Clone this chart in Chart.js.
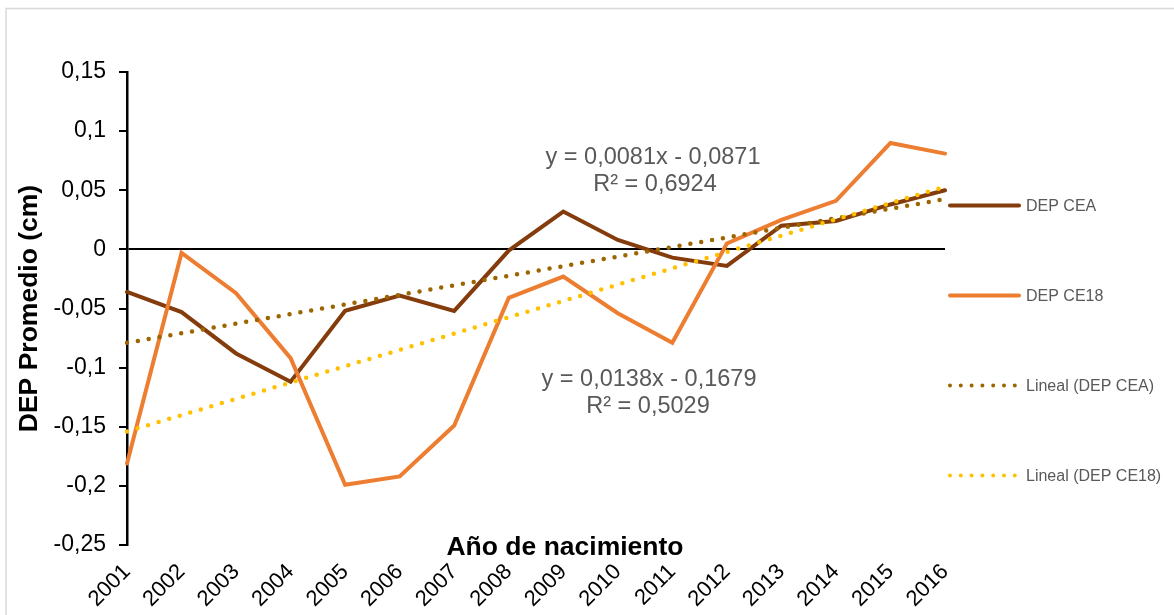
<!DOCTYPE html>
<html>
<head>
<meta charset="utf-8">
<script src="https://cdn.jsdelivr.net/npm/chart.js@4/dist/chart.umd.min.js"></script>
<style>
  html, body { margin: 0; padding: 0; background: #fff; }
  #wrap { width: 1174px; height: 615px; position: relative; }
</style>
</head>
<body>
<div id="wrap"><canvas id="chart" width="1174" height="615"></canvas></div>
<script>
// años de nacimiento
const years = ['2001','2002','2003','2004','2005','2006','2007','2008','2009','2010','2011','2012','2013','2014','2015','2016'];

// DEP promedio (cm)
const depCEA  = [-0.036, -0.053, -0.088, -0.112, -0.052, -0.039, -0.052, -0.001, 0.032, 0.008, -0.007, -0.014, 0.020, 0.024, 0.038, 0.050];
const depCE18 = [-0.181, -0.003, -0.037, -0.092, -0.199, -0.192, -0.149, -0.041, -0.023, -0.054, -0.079, 0.005, 0.025, 0.041, 0.090, 0.081];

// extremos de las líneas de tendencia
const trendYears = ['2001', '2016'];
const trendCEA  = [-0.079, 0.0425];
const trendCE18 = [-0.154, 0.053];

const yTicks = [0.15, 0.1, 0.05, 0, -0.05, -0.1, -0.15, -0.2, -0.25];

const eqCEA  = ['y = 0,0081x - 0,0871', 'R² = 0,6924'];
const eqCE18 = ['y = 0,0138x - 0,1679', 'R² = 0,5029'];

const legendItems = [
  { label: 'DEP CEA', color: '#843C0C', dotted: false },
  { label: 'DEP CE18', color: '#ED7D31', dotted: false },
  { label: 'Lineal (DEP CEA)', color: '#9C6500', dotted: true },
  { label: 'Lineal (DEP CE18)', color: '#FFC000', dotted: true }
];

const FONT = '"Liberation Sans", Arial, sans-serif';

const fmt = v => {
  const r = Math.round(v * 100) / 100;
  return String(r).replace('.', ',');
};

const extras = {
  id: 'extras',
  beforeDraw(chart) {
    const ctx = chart.ctx;
    ctx.save();
    ctx.strokeStyle = '#d9d9d9';
    ctx.lineWidth = 1.5;
    ctx.strokeRect(6, 8.5, 1300, 700);
    ctx.restore();
  },
  afterDraw(chart) {
    const ctx = chart.ctx;
    ctx.save();
    // título eje X (Excel lo pone sobre las etiquetas)
    ctx.font = 'bold 26.5px ' + FONT;
    ctx.fillStyle = '#000';
    ctx.textAlign = 'center';
    ctx.textBaseline = 'middle';
    ctx.fillText('Año de nacimiento', 565, 548);

    // ecuaciones de tendencia
    ctx.font = '23.5px ' + FONT;
    ctx.fillStyle = '#595959';
    ctx.fillText(eqCEA[0], 653, 158);
    ctx.fillText(eqCEA[1], 655, 185);
    ctx.fillText(eqCE18[0], 649, 380);
    ctx.fillText(eqCE18[1], 648, 407);

    // leyenda
    ctx.font = '16px ' + FONT;
    ctx.textAlign = 'left';
    legendItems.forEach((it, i) => {
      const y = 205.5 + i * 90;
      ctx.strokeStyle = it.color;
      ctx.lineWidth = it.dotted ? 4 : 4;
      ctx.lineCap = 'round';
      ctx.setLineDash(it.dotted ? [0, 10.8] : []);
      ctx.beginPath();
      ctx.moveTo(950, y);
      ctx.lineTo(it.dotted ? 1016 : 1019, y);
      ctx.stroke();
      ctx.setLineDash([]);
      ctx.fillStyle = '#595959';
      ctx.fillText(it.label, 1026, y + 1);
    });
    ctx.restore();
  }
};

new Chart(document.getElementById('chart'), {
  type: 'line',
  data: {
    labels: years,
    datasets: [
      {
        label: 'Lineal (DEP CE18)',
        data: trendYears.map((x, i) => ({ x, y: trendCE18[i] })),
        borderColor: '#FFC000',
        borderWidth: 4.5,
        borderDash: [0, 11],
        borderCapStyle: 'round',
        pointRadius: 0,
        order: 1
      },
      {
        label: 'Lineal (DEP CEA)',
        data: trendYears.map((x, i) => ({ x, y: trendCEA[i] })),
        borderColor: '#9C6500',
        borderWidth: 4.5,
        borderDash: [0, 11],
        borderCapStyle: 'round',
        pointRadius: 0,
        order: 2
      },
      {
        label: 'DEP CE18',
        data: depCE18,
        borderColor: '#ED7D31',
        borderWidth: 4,
        borderCapStyle: 'round',
        pointRadius: 0,
        tension: 0,
        order: 3
      },
      {
        label: 'DEP CEA',
        data: depCEA,
        borderColor: '#843C0C',
        borderWidth: 4,
        borderCapStyle: 'round',
        pointRadius: 0,
        tension: 0,
        order: 4
      }
    ]
  },
  options: {
    responsive: false,
    animation: false,
    layout: { padding: { left: 10, top: 72, right: 229, bottom: 0 } },
    plugins: {
      legend: { display: false },
      tooltip: { enabled: false }
    },
    scales: {
      x: {
        offset: false,
        grid: { display: false, drawTicks: false },
        border: { display: false },
        ticks: {
          autoSkip: false,
          minRotation: 45,
          maxRotation: 45,
          padding: 14,
          color: '#000',
          font: { family: FONT, size: 22 }
        },
        afterFit(scale) { scale.height = 70; }
      },
      y: {
        min: -0.25,
        max: 0.15,
        afterBuildTicks(scale) { scale.ticks = yTicks.map(v => ({ value: v })); },
        grid: {
          color: c => (c.tick && c.tick.value === 0 ? '#000' : 'rgba(0,0,0,0)'),
          lineWidth: 2,
          tickColor: '#000',
          tickLength: 8,
          drawTicks: true
        },
        border: { display: true, color: '#000', width: 2.5 },
        ticks: {
          padding: 13,
          color: '#000',
          font: { family: FONT, size: 23 },
          callback: v => fmt(v)
        },
        title: {
          display: true,
          text: 'DEP Promedio (cm)',
          color: '#000',
          font: { family: FONT, size: 26.5, weight: 'bold' },
          padding: { top: 4, bottom: 0 }
        },
        afterFit(scale) { scale.width = 117; }
      }
    }
  },
  plugins: [extras]
});
</script>
</body>
</html>
